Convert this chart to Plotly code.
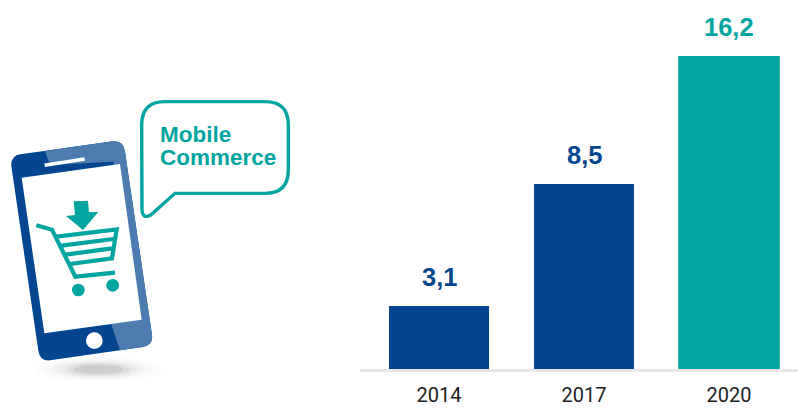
import plotly.graph_objects as go

W, H = 798, 410
categories = ["2014", "2017", "2020"]
value_labels = ["3,1", "8,5", "16,2"]
# Bar heights as drawn in the picture (the source chart is not to scale with its labels)
drawn_heights = [3.26, 9.57, 16.2]
bar_colors = ["#03468f", "#03468f", "#00a5a2"]
bar_widths = [0.69, 0.69, 0.70]

TEAL = "#00a5a2"
DARK = "#03468f"
LIGHT = "#4d7cb0"
FONT = "Liberation Sans"


def px(x, y):
    return x / W, 1 - y / H


def z(x, y):
    """Convert from illustration crop coords (3x, origin at 0,90) to page coords."""
    return x / 3, 90 + y / 3


def path(cmds):
    out = []
    for c in cmds:
        if len(c) == 1:
            out.append(c[0])
        else:
            pts = []
            for i in range(1, len(c), 2):
                a, b = px(*z(c[i], c[i + 1]))
                pts.append(f"{a:.5f},{b:.5f}")
            out.append(c[0] + " ".join(pts))
    return " ".join(out)


def shape(cmds, fill=None, line=None, width=0, opacity=1):
    return dict(
        type="path", xref="paper", yref="paper", path=path(cmds),
        fillcolor=fill if fill else "rgba(0,0,0,0)",
        line=dict(color=line if line else "rgba(0,0,0,0)", width=width),
        opacity=opacity, layer="above",
    )


def circle(cx, cy, r, fill, opacity=1, ry=None):
    ry = r if ry is None else ry
    x0, y1 = px(*z(cx - r, cy - ry))
    x1, y0 = px(*z(cx + r, cy + ry))
    return dict(type="circle", xref="paper", yref="paper", x0=x0, x1=x1, y0=y0, y1=y1,
                fillcolor=fill, line=dict(width=0), opacity=opacity, layer="above")


shapes = []

# shadow under the phone
for rx, ry, op in [(190, 38, 0.02), (165, 32, 0.03), (140, 27, 0.05),
                   (115, 22, 0.07), (95, 18, 0.10), (75, 13, 0.14)]:
    shapes.append(circle(295, 838, rx, "#7a7a7a", op, ry))

# phone body, dark part
shapes.append(shape([
    ("M", 34, 228), ("Q", 32, 197, 62, 193), ("L", 338, 154), ("Q", 370, 150, 375, 185),
    ("L", 456, 735), ("Q", 460, 765, 428, 771), ("L", 150, 811), ("Q", 120, 814, 115, 782),
    ("Z",)], fill=DARK))
# phone body, lighter part
shapes.append(shape([
    ("M", 135, 183), ("L", 338, 154), ("Q", 370, 150, 375, 185),
    ("L", 456, 735), ("Q", 460, 765, 428, 771), ("L", 360, 781), ("L", 333, 700),
    ("L", 400, 680), ("L", 340, 215), ("L", 150, 225), ("Z",)], fill=LIGHT))
# screen
shapes.append(shape([("M", 65, 263), ("L", 360, 222), ("L", 425, 689), ("L", 133, 730), ("Z",)],
                    fill="#ffffff"))
# speaker and home button
shapes.append(shape([("M", 134, 226), ("L", 254, 207)], line="#ffffff", width=3.5))
shapes.append(circle(283, 752, 25, "#ffffff"))

# arrow
shapes.append(shape([("M", 221, 334), ("L", 264, 332), ("L", 267, 366), ("L", 295, 366),
                     ("L", 249, 420), ("L", 198, 378), ("L", 225, 375), ("Z",)], fill=TEAL))
# cart
cart_w = 4.2
shapes.append(shape([("M", 109, 406), ("L", 156, 419), ("L", 226, 560), ("L", 345, 548)],
                    line=TEAL, width=cart_w))
shapes.append(shape([("M", 170, 440), ("L", 350, 418), ("L", 336, 505), ("L", 210, 522)],
                    line=TEAL, width=cart_w))
for a, b, c, d in [(185, 467, 340, 447), (197, 494, 336, 475)]:
    shapes.append(shape([("M", a, b), ("L", c, d)], line=TEAL, width=cart_w))
shapes.append(circle(235, 600, 19, TEAL))
shapes.append(circle(338, 586, 19, TEAL))

# speech bubble
shapes.append(shape([
    ("M", 495, 35), ("L", 795, 35), ("Q", 865, 35, 865, 105), ("L", 865, 240),
    ("Q", 865, 310, 795, 310), ("L", 525, 310), ("L", 452, 375), ("Q", 428, 388, 426, 360),
    ("L", 425, 105), ("Q", 425, 35, 495, 35), ("Z",)], line=TEAL, width=3.4))

annotations = []
for text, ay in [("Mobile", 134), ("Commerce", 157)]:
    a, b = px(157.5, ay)
    annotations.append(dict(text=f"<b>{text}</b>", xref="paper", yref="paper", x=a, y=b,
                            xanchor="left", yanchor="middle", showarrow=False,
                            font=dict(family=FONT, size=22.5, color=TEAL)))

for i, (h, lab, col) in enumerate(zip(drawn_heights, value_labels, bar_colors)):
    annotations.append(dict(text=f"<b>{lab}</b>", x=i, y=h, xref="x", yref="y",
                            xanchor="center", yanchor="bottom", yshift=13, showarrow=False,
                            font=dict(family=FONT, size=25.5, color=col)))

fig = go.Figure(go.Bar(
    x=categories, y=drawn_heights, marker=dict(color=bar_colors, line=dict(width=0)),
    width=bar_widths, hoverinfo="skip",
))

fig.update_layout(
    width=W, height=H, margin=dict(l=0, r=0, t=0, b=0, pad=0, autoexpand=False),
    paper_bgcolor="white", plot_bgcolor="white", showlegend=False,
    shapes=shapes, annotations=annotations,
    xaxis=dict(
        type="category", domain=[360 / W, 1], range=[-0.545, 2.476],
        showgrid=False, zeroline=False, showline=True, linecolor="#e6e6e6", linewidth=3,
        ticks="outside", ticklen=6, tickcolor="rgba(0,0,0,0)", automargin=False,
        tickfont=dict(family="Roboto", size=20, color="#222222"),
    ),
    yaxis=dict(
        domain=[1 - 369 / H, 1], range=[0, 369 / 19.32], visible=False,
        showgrid=False, zeroline=False, automargin=False,
    ),
)

fig.write_html("out.html", post_script="document.body.style.margin='0';",
               config={"displayModeBar": False})
